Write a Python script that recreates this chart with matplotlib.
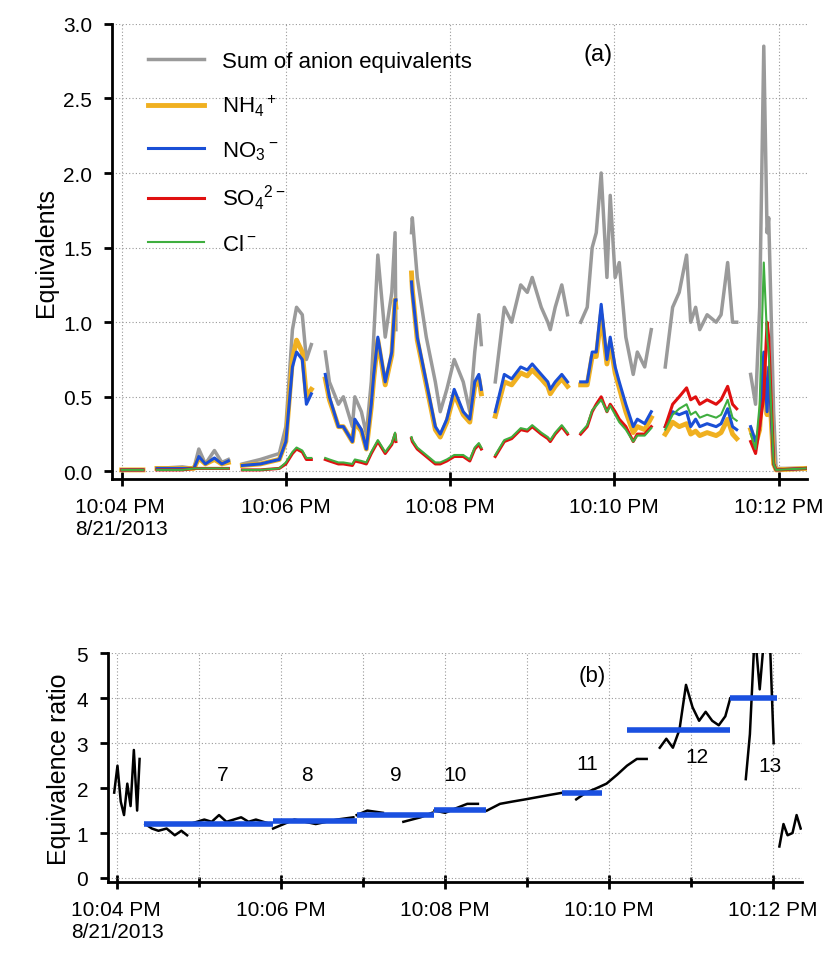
import numpy as np
import matplotlib
matplotlib.use("Agg")
import matplotlib.pyplot as plt

plt.rcParams["font.family"] = ["Liberation Sans", "DejaVu Sans"]
plt.rcParams["mathtext.fontset"] = "custom"
plt.rcParams["mathtext.rm"] = "Liberation Sans"

nan = np.nan
# panel (a): minutes after 10:04 PM, gaps marked with nan
t_a = [0.0, 0.15, 0.26, nan,
       0.43, 0.74, 0.88, 0.94, 1.02, 1.13, 1.22, 1.30, nan,
       1.47, 1.69, 1.92, 2.00, 2.08, 2.13, 2.20, 2.25, 2.31, nan,
       2.48, 2.53, 2.64, 2.70, 2.81, 2.84, 2.92, 2.98, 3.04, 3.07, 3.12, 3.21, 3.29, 3.33, 3.34, nan,
       3.53, 3.54, 3.60, 3.71, 3.82, 3.88, 3.96, 4.05, 4.16, 4.24, 4.30, 4.35, 4.38, nan,
       4.55, 4.66, 4.75, 4.86, 4.94, 5.00, 5.11, 5.19, 5.22, 5.28, 5.36, 5.43, nan,
       5.59, 5.67, 5.73, 5.78, 5.84, 5.91, 5.95, 6.01, 6.06, 6.14, 6.23, 6.28, 6.37, 6.45, nan,
       6.62, 6.71, 6.79, 6.88, 6.93, 6.99, 7.04, 7.13, 7.24, 7.30, 7.38, 7.44, 7.49, nan,
       7.66, 7.72, 7.77, 7.82, 7.86, 7.88, 7.94, 7.97, 8.33]
anion_sum = [0.01, 0.01, 0.01, nan,
             0.02, 0.03, 0.02, 0.15, 0.05, 0.14, 0.06, 0.08, nan,
             0.05, 0.08, 0.12, 0.30, 0.95, 1.10, 1.05, 0.75, 0.85, nan,
             0.80, 0.60, 0.45, 0.50, 0.30, 0.50, 0.40, 0.25, 0.60, 0.90, 1.45, 0.90, 1.20, 1.60, 0.95, nan,
             1.60, 1.70, 1.30, 0.90, 0.60, 0.40, 0.55, 0.75, 0.60, 0.40, 0.80, 1.05, 0.85, nan,
             0.60, 1.10, 1.00, 1.25, 1.20, 1.30, 1.10, 1.00, 0.95, 1.10, 1.25, 1.05, nan,
             1.00, 1.10, 1.50, 1.60, 2.00, 1.30, 1.85, 1.30, 1.40, 0.90, 0.65, 0.80, 0.70, 0.95, nan,
             0.70, 1.10, 1.20, 1.45, 1.00, 1.10, 0.95, 1.05, 1.00, 1.05, 1.40, 1.00, 1.00, nan,
             0.65, 0.45, 1.10, 2.85, 1.60, 1.70, 0.40, 0.02, 0.02]
no3 = [0.01, 0.01, 0.01, nan,
       0.02, 0.02, 0.02, 0.10, 0.05, 0.09, 0.05, 0.07, nan,
       0.04, 0.05, 0.08, 0.20, 0.70, 0.80, 0.75, 0.45, 0.52, nan,
       0.65, 0.50, 0.30, 0.30, 0.20, 0.35, 0.28, 0.15, 0.45, 0.65, 0.90, 0.60, 0.80, 1.15, 1.15, nan,
       1.27, 1.20, 0.90, 0.60, 0.30, 0.25, 0.35, 0.55, 0.40, 0.35, 0.60, 0.65, 0.55, nan,
       0.40, 0.65, 0.62, 0.70, 0.68, 0.72, 0.65, 0.60, 0.55, 0.60, 0.65, 0.60, nan,
       0.60, 0.60, 0.80, 0.80, 1.12, 0.75, 0.90, 0.70, 0.60, 0.45, 0.30, 0.35, 0.32, 0.40, nan,
       0.30, 0.40, 0.38, 0.40, 0.30, 0.35, 0.30, 0.32, 0.30, 0.32, 0.42, 0.30, 0.28, nan,
       0.30, 0.20, 0.30, 0.80, 0.40, 0.70, 0.05, 0.01, 0.02]
nh4 = [0.01, 0.01, 0.01, nan,
       0.02, 0.02, 0.02, 0.09, 0.05, 0.08, 0.05, 0.06, nan,
       0.04, 0.05, 0.08, 0.20, 0.75, 0.88, 0.80, 0.50, 0.55, nan,
       0.62, 0.48, 0.30, 0.30, 0.20, 0.33, 0.27, 0.15, 0.43, 0.62, 0.88, 0.58, 0.78, 1.15, 1.10, nan,
       1.33, 1.22, 0.88, 0.58, 0.28, 0.23, 0.33, 0.52, 0.38, 0.33, 0.57, 0.62, 0.52, nan,
       0.37, 0.60, 0.58, 0.66, 0.64, 0.68, 0.62, 0.57, 0.52, 0.57, 0.62, 0.57, nan,
       0.58, 0.58, 0.77, 0.77, 1.05, 0.72, 0.86, 0.66, 0.56, 0.40, 0.26, 0.30, 0.28, 0.36, nan,
       0.25, 0.33, 0.30, 0.32, 0.25, 0.27, 0.24, 0.26, 0.24, 0.26, 0.35, 0.25, 0.22, nan,
       0.28, 0.18, 0.28, 0.75, 0.38, 0.65, 0.05, 0.01, 0.02]
so4 = [0.01, 0.01, 0.01, nan,
       0.01, 0.01, 0.02, 0.02, 0.02, 0.02, 0.02, 0.02, nan,
       0.01, 0.01, 0.02, 0.05, 0.12, 0.15, 0.13, 0.08, 0.08, nan,
       0.08, 0.07, 0.05, 0.05, 0.04, 0.07, 0.06, 0.05, 0.12, 0.15, 0.20, 0.12, 0.18, 0.25, 0.20, nan,
       0.22, 0.20, 0.15, 0.10, 0.05, 0.05, 0.07, 0.10, 0.10, 0.07, 0.15, 0.18, 0.15, nan,
       0.10, 0.20, 0.22, 0.28, 0.27, 0.30, 0.25, 0.22, 0.20, 0.25, 0.30, 0.25, nan,
       0.25, 0.30, 0.40, 0.45, 0.50, 0.40, 0.45, 0.40, 0.35, 0.30, 0.20, 0.25, 0.25, 0.30, nan,
       0.30, 0.45, 0.50, 0.56, 0.48, 0.50, 0.45, 0.48, 0.45, 0.48, 0.57, 0.45, 0.42, nan,
       0.20, 0.12, 0.30, 0.50, 1.00, 0.90, 0.05, 0.01, 0.02]
cl = [0.01, 0.01, 0.01, nan,
      0.01, 0.01, 0.02, 0.02, 0.02, 0.02, 0.02, 0.02, nan,
      0.01, 0.01, 0.02, 0.06, 0.13, 0.16, 0.14, 0.09, 0.09, nan,
      0.09, 0.08, 0.06, 0.06, 0.05, 0.08, 0.07, 0.06, 0.13, 0.16, 0.21, 0.13, 0.19, 0.26, 0.21, nan,
      0.23, 0.21, 0.16, 0.11, 0.06, 0.06, 0.08, 0.11, 0.11, 0.08, 0.16, 0.19, 0.16, nan,
      0.11, 0.21, 0.23, 0.29, 0.28, 0.31, 0.26, 0.23, 0.21, 0.26, 0.31, 0.26, nan,
      0.26, 0.31, 0.41, 0.44, 0.48, 0.40, 0.44, 0.38, 0.33, 0.28, 0.20, 0.24, 0.24, 0.29, nan,
      0.28, 0.38, 0.42, 0.45, 0.38, 0.40, 0.36, 0.38, 0.36, 0.38, 0.48, 0.36, 0.34, nan,
      0.25, 0.15, 0.45, 1.40, 0.90, 0.80, 0.05, 0.01, 0.02]

# panel (b): equivalence ratio
t_b = [-0.04, 0.0, 0.04, 0.08, 0.12, 0.16, 0.20, 0.24, 0.27, nan,
       0.34, 0.42, 0.50, 0.60, 0.70, 0.78, 0.85, nan,
       0.88, 0.97, 1.06, 1.15, 1.24, 1.33, 1.42, 1.51, 1.60, 1.69, 1.78, 1.87, nan,
       1.90, 2.03, 2.16, 2.29, 2.42, 2.55, 2.68, 2.88, nan,
       2.92, 3.05, 3.24, nan, 3.49, 3.70, 3.84, nan,
       3.87, 4.00, 4.13, 4.27, 4.40, nan,
       4.51, 4.67, 4.82, 4.98, 5.13, 5.28, 5.44, nan,
       5.60, 5.72, 5.85, 5.97, 6.10, 6.22, 6.34, 6.46, nan,
       6.62, 6.70, 6.78, 6.86, 6.94, 7.02, 7.10, 7.18, 7.26, 7.34, 7.42, 7.48, nan,
       7.67, 7.72, 7.78, 7.84, 7.90, 7.96, 8.01, nan,
       8.08, 8.13, 8.18, 8.24, 8.29, 8.34]
ratio = [1.9, 2.5, 1.7, 1.4, 2.1, 1.6, 2.85, 1.5, 2.65, nan,
         1.2, 1.1, 1.05, 1.1, 0.95, 1.05, 0.95, nan,
         1.2, 1.25, 1.3, 1.25, 1.4, 1.25, 1.3, 1.35, 1.25, 1.3, 1.25, 1.2, nan,
         1.1, 1.2, 1.3, 1.25, 1.2, 1.25, 1.3, 1.35, nan,
         1.4, 1.5, 1.45, nan, 1.25, 1.35, 1.45, nan,
         1.5, 1.45, 1.55, 1.65, 1.65, nan,
         1.5, 1.65, 1.7, 1.75, 1.8, 1.85, 1.9, nan,
         1.75, 1.9, 2.0, 2.1, 2.3, 2.5, 2.65, 2.65, nan,
         2.9, 3.1, 2.9, 3.3, 4.3, 3.8, 3.5, 3.7, 3.5, 3.4, 3.6, 4.0, nan,
         2.2, 3.2, 5.5, 4.2, 5.5, 5.5, 3.0, nan,
         0.7, 1.2, 0.95, 1.0, 1.4, 1.1]
bar_start = [0.32, 1.90, 2.92, 3.86, 5.43, 6.22, 7.48]
bar_end = [1.90, 2.92, 3.86, 4.50, 5.91, 7.48, 8.05]
bar_value = [1.2, 1.27, 1.4, 1.52, 1.9, 3.3, 4.0]
period_labels = ["7", "8", "9", "10", "11", "12", "13"]
label_t = [1.29, 2.31, 3.40, 4.12, 5.74, 7.07, 7.97]
label_y = [2.3, 2.3, 2.3, 2.3, 2.55, 2.7, 2.5]

tick_pos = [0, 2, 4, 6, 8]
tick_txt = ["10:04 PM\n8/21/2013", "10:06 PM", "10:08 PM", "10:10 PM", "10:12 PM"]

fig = plt.figure(figsize=(8.28, 9.54), dpi=100)
ax1 = fig.add_axes([0.135, 0.497, 0.840, 0.477])
ax2 = fig.add_axes([0.13, 0.074, 0.838, 0.240])

for ax in (ax1, ax2):
    ax.set_xlim(-0.12, 8.35)
    ax.set_xticks(tick_pos)
    ax.set_xticklabels(tick_txt, fontsize=15, ha="center", va="top")
    ax.grid(True, color="#999999", linestyle=(0, (1, 2)), linewidth=0.8)
    for s in ("top", "right"):
        ax.spines[s].set_visible(False)
    ax.spines["left"].set_linewidth(2)
    ax.spines["bottom"].set_linewidth(2)
    ax.tick_params(width=2, length=6, labelsize=15, pad=8)
    ax.tick_params(axis="x", direction="inout", length=10, labelsize=15)
    ax.tick_params(axis="y", direction="out")
for lab in ax1.get_xticklabels() + ax2.get_xticklabels():
    lab.set_multialignment("left")

ax1.plot(t_a, anion_sum, color="#9a9a9a", lw=2.5, label="Sum of anion equivalents")
ax1.plot(t_a, nh4, color="#f0b020", lw=3.5, label="NH$_4$$^+$")
ax1.plot(t_a, no3, color="#1a4fd6", lw=2.2, label="NO$_3$$^-$")
ax1.plot(t_a, so4, color="#e01010", lw=2.2, label="SO$_4$$^{2-}$")
ax1.plot(t_a, cl, color="#3fae3f", lw=1.5, label="Cl$^-$")
ax1.set_ylim(-0.05, 3.0)
ax1.set_yticks([0.0, 0.5, 1.0, 1.5, 2.0, 2.5, 3.0])
ax1.set_yticklabels(["0.0", "0.5", "1.0", "1.5", "2.0", "2.5", "3.0"])
ax1.set_ylabel("Equivalents", fontsize=18)
ax1.text(5.8, 2.8, "(a)", fontsize=17, ha="center", va="center")
ax1.legend(loc="upper left", bbox_to_anchor=(0.04, 0.96), frameon=False, fontsize=16,
           handlelength=2.5, labelspacing=0.95, borderaxespad=0)

ax2.plot(t_b, ratio, color="black", lw=1.8)
ax2.hlines(bar_value, bar_start, bar_end, color="#1a50e0", lw=4)
for lab, tx, ty in zip(period_labels, label_t, label_y):
    ax2.text(tx, ty, lab, fontsize=15, ha="center", va="center")
ax2.text(5.79, 4.5, "(b)", fontsize=16, ha="center", va="center")
ax2.set_ylim(-0.1, 5.0)
ax2.set_yticks([0, 1, 2, 3, 4, 5])
ax2.set_xticks([1, 3, 5, 7], minor=True)
ax2.tick_params(axis="x", which="minor", direction="inout", length=7, width=2)
ax2.grid(True, which="minor", axis="x", color="#999999", linestyle=(0, (1, 2)), linewidth=0.8)
ax2.set_ylabel("Equivalence ratio", fontsize=18)

fig.savefig("out.png", dpi=100)
